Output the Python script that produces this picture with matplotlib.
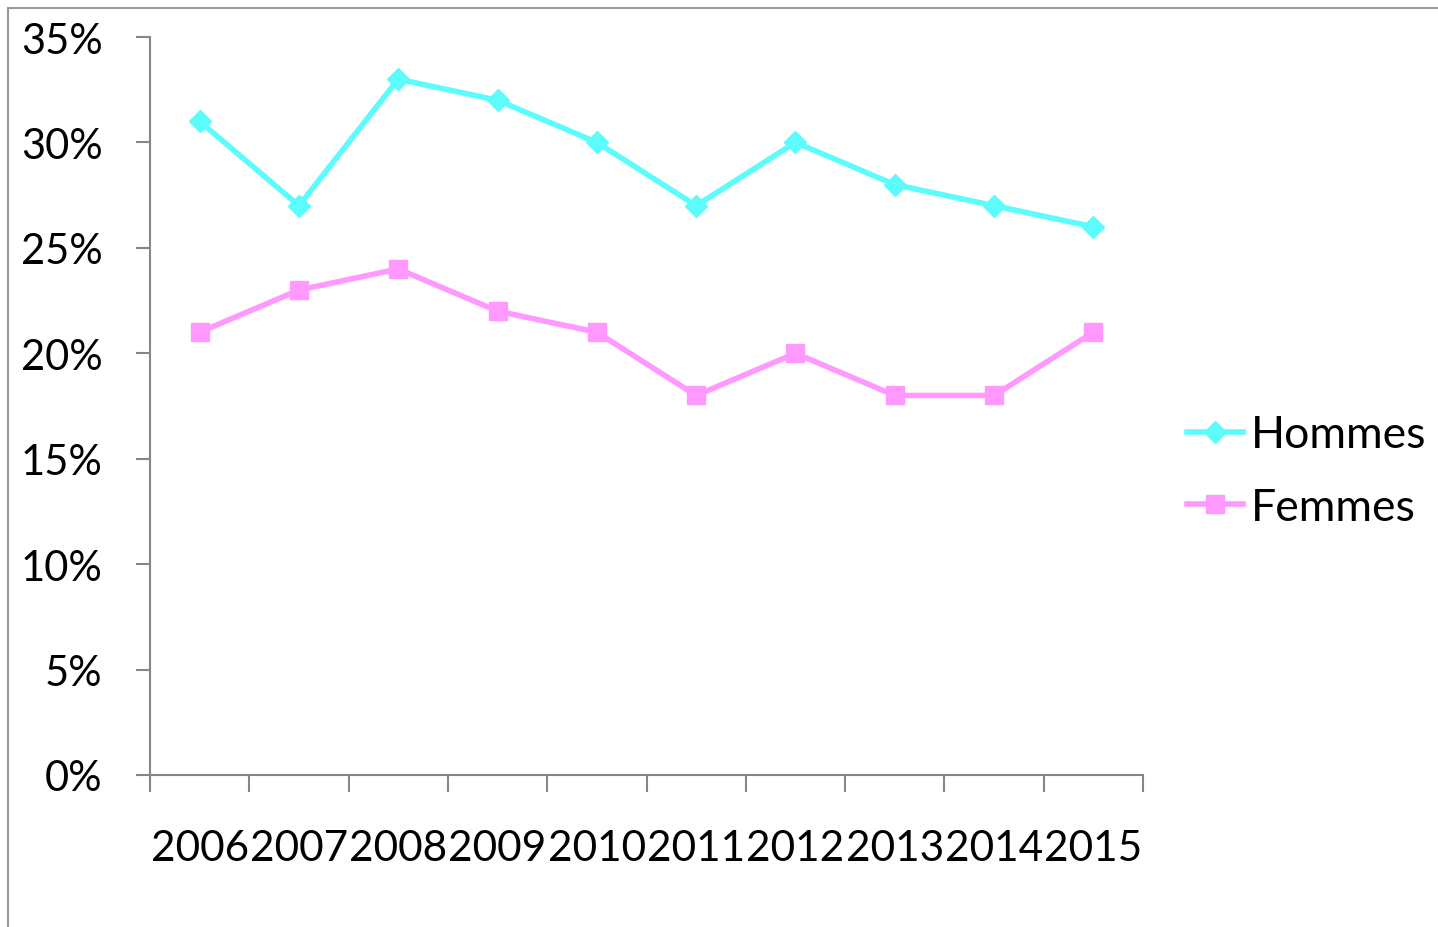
import matplotlib.pyplot as plt
import matplotlib.patches as mpatches
from matplotlib.ticker import FixedLocator

years = ['2006', '2007', '2008', '2009', '2010', '2011', '2012', '2013', '2014', '2015']
hommes = [31, 27, 33, 32, 30, 27, 30, 28, 27, 26]
femmes = [21, 23, 24, 22, 21, 18, 20, 18, 18, 21]
y_ticks = [0, 5, 10, 15, 20, 25, 30, 35]

plt.rcParams['font.family'] = ['Lato', 'DejaVu Sans']

fig = plt.figure(figsize=(14.38, 9.28), dpi=100)
ax = fig.add_axes([150/1438, 1 - 776/928, 993/1438, 738/928])

x = list(range(len(years)))
ax.plot(x, hommes, color='#5CFCFC', linewidth=4, marker='D', markersize=11, label='Hommes')
ax.plot(x, femmes, color='#FF99FF', linewidth=4, marker='s', markersize=12.5, label='Femmes')

ax.set_xlim(-0.5, len(years) - 0.5)
ax.set_ylim(0, 35)
ax.set_yticks(y_ticks)
ax.set_yticklabels([f'{v}%' for v in y_ticks])
ax.set_xticks(x)
ax.set_xticklabels(years)
ax.xaxis.set_minor_locator(FixedLocator([i - 0.5 for i in range(len(years) + 1)]))

grey = '#868686'
for s in ['top', 'right']:
    ax.spines[s].set_visible(False)
for s in ['left', 'bottom']:
    ax.spines[s].set_color(grey)
    ax.spines[s].set_linewidth(1.5)

ax.tick_params(axis='y', length=10, width=1.5, color=grey, pad=24, labelsize=30)
ax.tick_params(axis='x', which='major', length=0, pad=39, labelsize=30.5)
ax.tick_params(axis='x', which='minor', length=12, width=1.5, color=grey)

fig.legend(loc='center left', bbox_to_anchor=(1147/1438, 1 - 472/928), frameon=False,
           fontsize=32, handlelength=1.27, handletextpad=0.16, labelspacing=0.7)

# cadre gris autour du graphique
border = mpatches.Rectangle((8/1438, -0.05), 1.05, 1 - 9/928 + 0.05, transform=fig.transFigure,
                            fill=False, edgecolor='#999999', linewidth=1.5)
fig.patches.append(border)

fig.savefig('out.png', dpi=100)
